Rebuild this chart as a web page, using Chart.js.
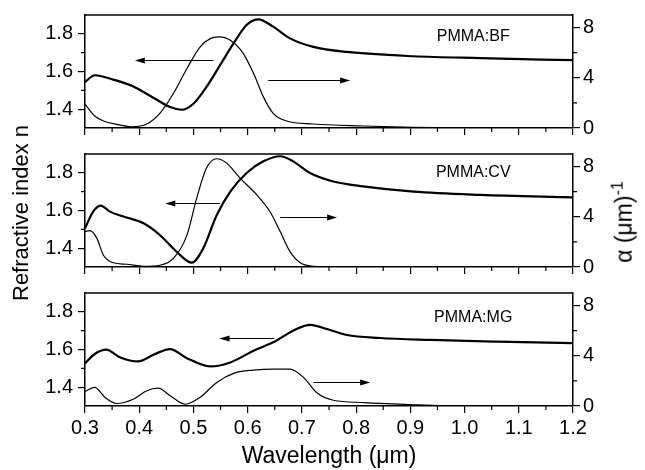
<!DOCTYPE html>
<html>
<head>
<meta charset="utf-8">
<script src="https://cdn.jsdelivr.net/npm/chart.js@4.4.0/dist/chart.umd.min.js"></script>
<style>
  body { margin: 0; background: #fff; }
  #wrap { position: relative; width: 645px; height: 470px; font-family: "Liberation Sans", Arial, sans-serif; color: #000; }
  .panel { position: absolute; left: 0; width: 645px; }
  .vtitle { position: absolute; white-space: nowrap; font-size: 22px; transform: translate(-50%, -50%) rotate(-90deg); }
  .vtitle sup { font-size: 16px; }
</style>
</head>
<body>
<div id="wrap">
  <div class="panel" style="top:0;height:140px"><canvas id="c1"></canvas></div>
  <div class="panel" style="top:140px;height:140px"><canvas id="c2"></canvas></div>
  <div class="panel" style="top:280px;height:190px"><canvas id="c3"></canvas></div>
  <div class="vtitle" style="left:21px;top:213px">Refractive index n</div>
  <div class="vtitle" style="left:623px;top:222px;font-size:23px">&alpha; (&mu;m)<sup>-1</sup></div>
</div>
<script>
// axis ticks
const xTicks = [0.3, 0.4, 0.5, 0.6, 0.7, 0.8, 0.9, 1.0, 1.1, 1.2];
const xMinor = [0.35, 0.45, 0.55, 0.65, 0.75, 0.85, 0.95, 1.05, 1.15];
const nTicks = [1.4, 1.6, 1.8];
const nMinor = [1.5, 1.7];
const aTicks = [0, 4, 8];
const aMinor = [2, 6];

// PMMA:BF
const bfWlN = [0.30, 0.318, 0.352, 0.389, 0.426, 0.457, 0.478, 0.50, 0.524, 0.549, 0.574, 0.598, 0.62, 0.647, 0.678, 0.721, 0.783, 0.906, 1.029, 1.2];
const bfN   = [1.544, 1.58, 1.557, 1.521, 1.461, 1.411, 1.397, 1.429, 1.518, 1.633, 1.749, 1.847, 1.877, 1.838, 1.776, 1.731, 1.704, 1.681, 1.671, 1.66];
const bfWlA = [0.30, 0.318, 0.334, 0.358, 0.386, 0.414, 0.438, 0.463, 0.488, 0.512, 0.531, 0.546, 0.568, 0.592, 0.611, 0.629, 0.647, 0.672, 0.721, 0.813, 0.906, 1.03, 1.2];
const bfAlpha = [1.9, 0.95, 0.56, 0.29, 0.1, 0.32, 1.17, 2.75, 4.74, 6.45, 7.12, 7.25, 6.98, 5.93, 4.34, 2.48, 1.17, 0.56, 0.32, 0.16, 0.05, 0.0, 0.0];

// PMMA:CV
const cvWlN = [0.30, 0.315, 0.329, 0.346, 0.371, 0.408, 0.438, 0.469, 0.497, 0.518, 0.543, 0.568, 0.598, 0.629, 0.66, 0.684, 0.715, 0.758, 0.813, 0.906, 1.029, 1.2];
const cvN   = [1.505, 1.594, 1.626, 1.594, 1.568, 1.532, 1.47, 1.381, 1.323, 1.399, 1.576, 1.70, 1.799, 1.861, 1.888, 1.861, 1.799, 1.754, 1.728, 1.70, 1.683, 1.67];
const cvWlA = [0.30, 0.309, 0.322, 0.334, 0.352, 0.377, 0.408, 0.438, 0.463, 0.488, 0.506, 0.524, 0.543, 0.561, 0.586, 0.617, 0.641, 0.66, 0.678, 0.697, 0.721, 0.758, 1.2];
const cvAlpha = [2.82, 2.9, 2.28, 0.94, 0.34, 0.22, 0.06, 0.14, 0.68, 2.54, 5.48, 7.88, 8.62, 8.28, 7.08, 5.74, 4.42, 2.82, 1.22, 0.34, 0.06, 0.0, 0.0];

// PMMA:MG
const mgWlN = [0.30, 0.318, 0.339, 0.365, 0.398, 0.429, 0.457, 0.488, 0.531, 0.568, 0.611, 0.647, 0.684, 0.715, 0.746, 0.783, 0.844, 0.937, 1.06, 1.2];
const mgN   = [1.526, 1.576, 1.599, 1.558, 1.537, 1.576, 1.602, 1.554, 1.51, 1.531, 1.594, 1.638, 1.70, 1.731, 1.709, 1.677, 1.661, 1.651, 1.642, 1.634];
const mgWlA = [0.30, 0.318, 0.337, 0.358, 0.389, 0.414, 0.435, 0.457, 0.485, 0.512, 0.543, 0.574, 0.611, 0.647, 0.678, 0.703, 0.727, 0.758, 0.813, 0.906, 1.0, 1.2];
const mgAlpha = [1.16, 1.48, 0.68, 0.2, 0.54, 1.22, 1.42, 0.82, 0.14, 0.68, 1.88, 2.6, 2.86, 2.94, 2.94, 2.28, 1.08, 0.46, 0.28, 0.1, 0.0, 0.0];

const panelLabels = ['PMMA:BF', 'PMMA:CV', 'PMMA:MG'];
// arrows: [from wavelength, to wavelength, n level]
const bfArrows = [[0.537, 0.392, 1.66], [0.638, 0.789, 1.553]];
const cvArrows = [[0.549, 0.448, 1.638], [0.66, 0.765, 1.564]];
const mgArrows = [[0.649, 0.548, 1.66], [0.721, 0.826, 1.425]];

const FONT = '"Liberation Sans", Arial, sans-serif';

function pts(xs, ys) {
  return xs.map((x, i) => ({ x: x, y: ys[i] }));
}

// labels may hang past the plot edges; don't let that shrink the panel
function noPad(s) {
  s.paddingTop = 0;
  s.paddingBottom = 0;
  s.paddingLeft = 0;
  s.paddingRight = 0;
}

const panelDeco = {
  id: 'panelDeco',
  afterDraw(chart, args, opts) {
    const ctx = chart.ctx;
    const a = chart.chartArea;
    const xs = chart.scales.x, yn = chart.scales.yn, ya = chart.scales.ya;
    ctx.save();
    ctx.strokeStyle = '#000';
    ctx.fillStyle = '#000';
    // top frame line
    ctx.lineWidth = 1.5;
    ctx.beginPath();
    ctx.moveTo(a.left, a.top);
    ctx.lineTo(a.right, a.top);
    ctx.stroke();
    // minor ticks
    ctx.lineWidth = 1.2;
    ctx.beginPath();
    xMinor.forEach(v => {
      const px = xs.getPixelForValue(v);
      ctx.moveTo(px, a.bottom);
      ctx.lineTo(px, a.bottom + 4);
    });
    nMinor.forEach(v => {
      const py = yn.getPixelForValue(v);
      ctx.moveTo(a.left, py);
      ctx.lineTo(a.left - 4, py);
    });
    aMinor.forEach(v => {
      const py = ya.getPixelForValue(v);
      ctx.moveTo(a.right, py);
      ctx.lineTo(a.right + 4, py);
    });
    ctx.stroke();
    // arrows
    ctx.lineWidth = 1;
    opts.arrows.forEach(ar => {
      const x0 = xs.getPixelForValue(ar[0]);
      const x1 = xs.getPixelForValue(ar[1]);
      const y = Math.round(yn.getPixelForValue(ar[2])) + 0.5;
      const dir = x1 > x0 ? 1 : -1;
      ctx.beginPath();
      ctx.moveTo(x0, y);
      ctx.lineTo(x1 - dir * 8, y);
      ctx.stroke();
      ctx.beginPath();
      ctx.moveTo(x1, y);
      ctx.lineTo(x1 - dir * 10, y - 3);
      ctx.lineTo(x1 - dir * 10, y + 3);
      ctx.closePath();
      ctx.fill();
    });
    // panel label
    ctx.font = '16px ' + FONT;
    ctx.textAlign = 'center';
    ctx.textBaseline = 'middle';
    ctx.fillText(opts.label, xs.getPixelForValue(opts.labelX), yn.getPixelForValue(opts.labelY));
    ctx.restore();
  }
};

function makePanel(canvasId, cfg) {
  const tickFont = { family: FONT, size: 20 };
  return new Chart(document.getElementById(canvasId), {
    type: 'line',
    data: {
      datasets: [
        { data: pts(cfg.wlN, cfg.n), yAxisID: 'yn', borderColor: '#000', borderWidth: 2.2, pointRadius: 0, cubicInterpolationMode: 'monotone', fill: false },
        { data: pts(cfg.wlA, cfg.alpha), yAxisID: 'ya', borderColor: '#000', borderWidth: 1.2, pointRadius: 0, cubicInterpolationMode: 'monotone', fill: false }
      ]
    },
    options: {
      responsive: true,
      maintainAspectRatio: false,
      animation: false,
      devicePixelRatio: 1,
      layout: { padding: { top: cfg.top, left: 0, right: 0, bottom: 0 } },
      plugins: {
        legend: { display: false },
        tooltip: { enabled: false },
        panelDeco: { label: cfg.label, labelX: 1.016, labelY: cfg.labelY, arrows: cfg.arrows }
      },
      scales: {
        x: {
          type: 'linear',
          min: 0.3,
          max: 1.2,
          afterBuildTicks: s => { s.ticks = xTicks.map(v => ({ value: v })); },
          afterFit: s => { s.height = cfg.xHeight; noPad(s); },
          ticks: { display: cfg.showX, font: tickFont, color: '#000', padding: 3, maxRotation: 0, callback: v => v.toFixed(1) },
          grid: { drawOnChartArea: false, drawTicks: true, tickLength: 7, color: '#000', lineWidth: 1.2 },
          border: { display: true, color: '#000', width: 1.5 },
          title: { display: cfg.showX, text: 'Wavelength (\u03bcm)', font: { family: FONT, size: 23 }, color: '#000', padding: 0 }
        },
        yn: {
          type: 'linear',
          position: 'left',
          min: 1.3,
          max: 1.9,
          afterBuildTicks: s => { s.ticks = nTicks.map(v => ({ value: v })); },
          afterFit: s => { s.width = 85; noPad(s); },
          ticks: { font: tickFont, color: '#000', padding: 5, callback: v => v.toFixed(1) },
          grid: { drawOnChartArea: false, drawTicks: true, tickLength: 7, color: '#000', lineWidth: 1.2 },
          border: { display: true, color: '#000', width: 1.5 }
        },
        ya: {
          type: 'linear',
          position: 'right',
          min: 0,
          max: 9,
          afterBuildTicks: s => { s.ticks = aTicks.map(v => ({ value: v })); },
          afterFit: s => { s.width = 72; noPad(s); },
          ticks: { font: tickFont, color: '#000', padding: 3, callback: v => String(v) },
          grid: { drawOnChartArea: false, drawTicks: true, tickLength: 7, color: '#000', lineWidth: 1.2 },
          border: { display: true, color: '#000', width: 1.5 }
        }
      }
    },
    plugins: [panelDeco]
  });
}

makePanel('c1', { wlN: bfWlN, n: bfN, wlA: bfWlA, alpha: bfAlpha, label: panelLabels[0], labelY: 1.783, arrows: bfArrows, top: 15, xHeight: 12, showX: false });
makePanel('c2', { wlN: cvWlN, n: cvN, wlA: cvWlA, alpha: cvAlpha, label: panelLabels[1], labelY: 1.80, arrows: cvArrows, top: 14, xHeight: 13, showX: false });
makePanel('c3', { wlN: mgWlN, n: mgN, wlA: mgWlA, alpha: mgAlpha, label: panelLabels[2], labelY: 1.772, arrows: mgArrows, top: 13, xHeight: 64, showX: true });
</script>
</body>
</html>
